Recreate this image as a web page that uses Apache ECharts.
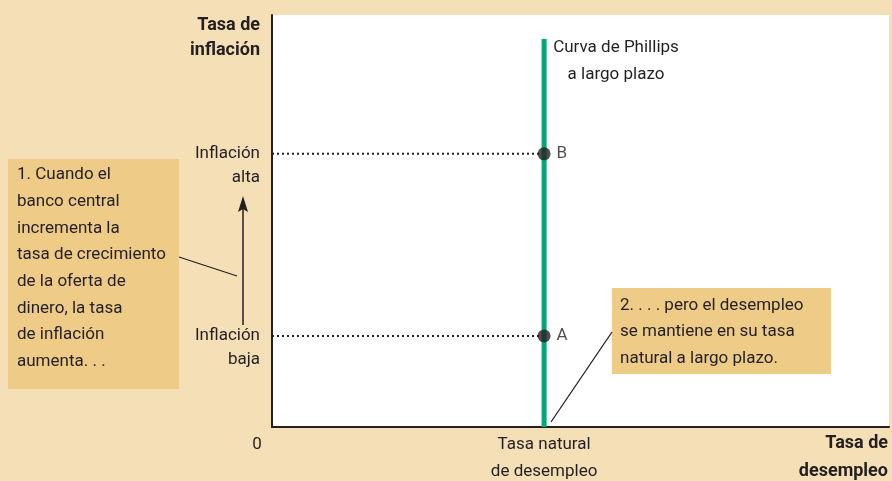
<!DOCTYPE html>
<html>
<head>
<meta charset="utf-8">
<script src="https://cdn.jsdelivr.net/npm/echarts@6/dist/echarts.min.js"></script>
<style>
html,body{margin:0;padding:0;background:#f5dfb6;}
#c{width:892px;height:481px;}
</style>
</head>
<body>
<div id="c"></div>
<script>
// Data
const naturalRate = 4.41;          // Tasa natural de desempleo (x)
const inflationLow = 2.21;         // Inflación baja (y) - punto A
const inflationHigh = 6.63;        // Inflación alta (y) - punto B
const lrpcTop = 9.42;              // top of long-run Phillips curve
const pointNames = ['A', 'B'];
const pointInflation = [inflationLow, inflationHigh];
const yTickValues = [inflationLow, inflationHigh];
const yTickLabels = ['Inflación\nbaja', 'Inflación\nalta'];
const xTickValues = [0, naturalRate];
const xTickLabels = ['0', 'Tasa natural\nde desempleo'];

const FONT = 'Roboto, "Liberation Sans", sans-serif';
const TXT = '#231f20';
const DARK = '#231f20';
const GREEN = '#00a878';
const BOX = '#eecb87';

const chart = echarts.init(document.getElementById('c'), null, {renderer: 'canvas'});

const option = {
  animation: false,
  backgroundColor: '#f5dfb6',
  textStyle: {fontFamily: FONT},
  grid: {left: 272, right: 3, top: 15, bottom: 54, show: true, backgroundColor: '#ffffff', borderWidth: 0, outerBoundsMode: 'none', containLabel: false},
  xAxis: {
    type: 'value', min: 0, max: 10,
    splitLine: {show: false},
    axisTick: {show: false},
    axisLine: {show: true, onZero: false, lineStyle: {color: DARK, width: 2}},
    axisLabel: {
      customValues: xTickValues,
      margin: 4,
      color: TXT, fontSize: 17, fontFamily: FONT, lineHeight: 27,
      formatter: function (v) {
        const i = xTickValues.indexOf(v);
        if (i === 0) return '{z|' + xTickLabels[0] + '}';
        return xTickLabels[i] || '';
      },
      rich: {z: {padding: [0, 30, 0, 0], fontSize: 17, lineHeight: 27, color: TXT, fontFamily: FONT}}
    }
  },
  yAxis: {
    type: 'value', min: 0, max: 10,
    splitLine: {show: false},
    axisTick: {show: false},
    axisLine: {show: true, onZero: false, lineStyle: {color: DARK, width: 2}},
    axisLabel: {
      customValues: yTickValues,
      margin: 12,
      color: TXT, fontSize: 17, fontFamily: FONT, lineHeight: 24,
      formatter: function (v) {
        const i = yTickValues.indexOf(v);
        return i >= 0 ? '\n' + yTickLabels[i] : '';
      }
    }
  },
  series: [
    {
      type: 'line', name: 'lrpc', z: 2,
      data: [[naturalRate, 0], [naturalRate, lrpcTop]],
      symbol: 'none',
      lineStyle: {color: GREEN, width: 5}
    },
    {
      type: 'line', name: 'dotHigh', z: 1,
      data: [[0, inflationHigh], [naturalRate, inflationHigh]],
      symbol: 'none',
      lineStyle: {color: DARK, width: 2, type: [2, 3]}
    },
    {
      type: 'line', name: 'dotLow', z: 1,
      data: [[0, inflationLow], [naturalRate, inflationLow]],
      symbol: 'none',
      lineStyle: {color: DARK, width: 2, type: [2, 3]}
    },
    {
      type: 'scatter', name: 'points', z: 5,
      symbolSize: 13,
      itemStyle: {color: DARK},
      data: pointNames.map((n, i) => ({name: n, value: [naturalRate, pointInflation[i]]})),
      label: {show: true, position: 'right', distance: 6, formatter: '{b}', color: TXT, fontSize: 17, fontFamily: FONT}
    }
  ],
  graphic: [
    {type: 'text', x: 260, y: 12.5, style: {text: 'Tasa de\ninflación', align: 'right', verticalAlign: 'top', font: 'bold 18px ' + FONT, lineHeight: 25, fill: DARK}},
    {type: 'text', x: 888, y: 429, style: {text: 'Tasa de\ndesempleo', align: 'right', verticalAlign: 'top', font: 'bold 18px ' + FONT, lineHeight: 28, fill: DARK}},
    {type: 'text', x: 616, y: 34.5, style: {text: 'Curva de Phillips\na largo plazo', align: 'center', verticalAlign: 'top', font: '17px ' + FONT, lineHeight: 27, fill: TXT}},
    {type: 'rect', shape: {x: 8, y: 159, width: 171, height: 230}, style: {fill: BOX}},
    {type: 'text', x: 17, y: 161.5, style: {text: '1. Cuando el\nbanco central\nincrementa la\ntasa de crecimiento\nde la oferta de\ndinero, la tasa\nde inflación\naumenta. . .', align: 'left', verticalAlign: 'top', font: '17px ' + FONT, lineHeight: 26.7, fill: TXT}},
    {type: 'line', shape: {x1: 179, y1: 257, x2: 237, y2: 276}, style: {stroke: DARK, lineWidth: 1.3}},
    {type: 'line', shape: {x1: 243, y1: 325, x2: 243, y2: 206}, style: {stroke: DARK, lineWidth: 1.5}},
    {type: 'polygon', shape: {points: [[243, 196], [248, 212], [243, 209], [238, 212]]}, style: {fill: DARK}},
    {type: 'rect', shape: {x: 612, y: 288, width: 219, height: 86}, style: {fill: BOX}},
    {type: 'text', x: 620, y: 292, style: {text: '2. . . . pero el desempleo\nse mantiene en su tasa\nnatural a largo plazo.', align: 'left', verticalAlign: 'top', font: '17px ' + FONT, lineHeight: 26.5, fill: TXT}},
    {type: 'line', shape: {x1: 612, y1: 332, x2: 551, y2: 422}, style: {stroke: DARK, lineWidth: 1.3}}
  ]
};
chart.setOption(option);
</script>
</body>
</html>
